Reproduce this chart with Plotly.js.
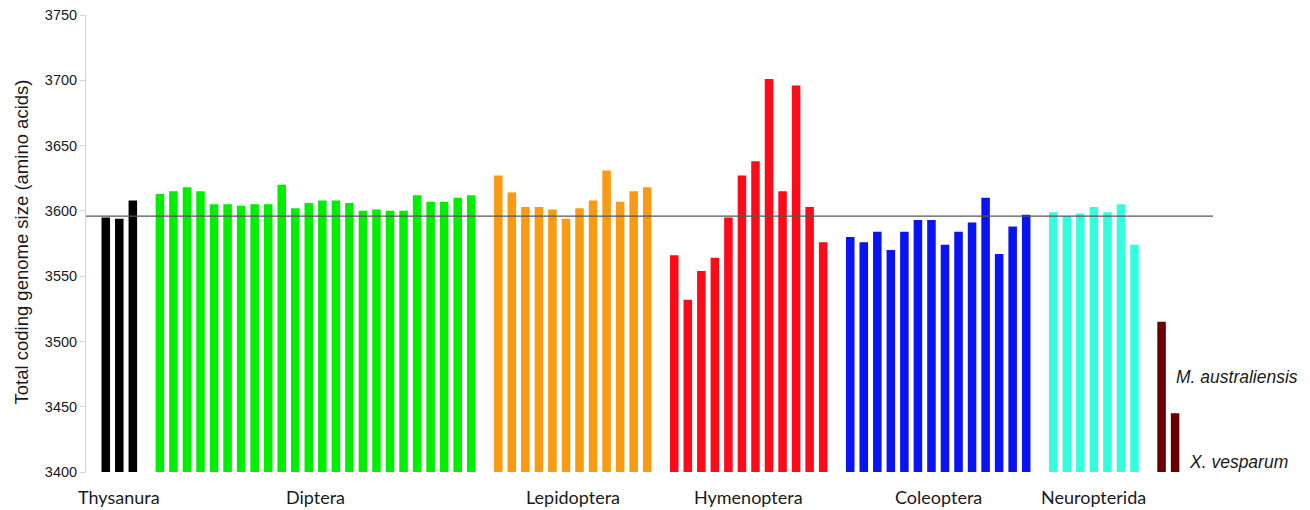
<!DOCTYPE html>
<html>
<head>
<meta charset="utf-8">
<script src="https://cdn.plot.ly/plotly-3.0.1.min.js"></script>
<style>html,body{margin:0;padding:0;background:#fff;}#chart{width:1310px;height:510px;}</style>
</head>
<body>
<div id="chart"></div>
<script>
// Group names (x-axis labels)
const groupNames = ["Thysanura", "Diptera", "Lepidoptera", "Hymenoptera", "Coleoptera", "Neuropterida", "Strepsiptera"];
// Values per group (total coding genome size, amino acids)
const thysanura = [3595, 3594, 3608];
const diptera = [3613, 3615, 3618, 3615, 3605, 3605, 3604, 3605, 3605, 3620, 3602, 3606,
                 3608, 3608, 3606, 3600, 3601, 3600, 3600, 3612, 3607, 3607, 3610, 3612];
const lepidoptera = [3627, 3614, 3603, 3603, 3601, 3594, 3602, 3608, 3631, 3607, 3615, 3618];
const hymenoptera = [3566, 3532, 3554, 3564, 3595, 3627, 3638, 3701, 3615, 3696, 3603, 3576];
const coleoptera = [3580, 3576, 3584, 3570, 3584, 3593, 3593, 3574, 3584, 3591, 3610, 3567, 3588, 3597];
const neuropterida = [3599, 3596, 3598, 3603, 3599, 3605, 3574];
const strepsiptera = [3515, 3445];
const strepsipteraNames = ["M. australiensis", "X. vesparum"];
const meanValue = 3596;
const yTitle = "Total coding genome size (amino acids)";
const groupColors = ["#000000", "#00ee00", "#f89a12", "#ff0a18", "#0a14f2", "#33ffdf", "#6a0000"];
const showGroupLabel = [true, true, true, true, true, true, false];

const groups = [thysanura, diptera, lepidoptera, hymenoptera, coleoptera, neuropterida, strepsiptera];

const traces = [];
const annotations = [];
let pos = 0;
groups.forEach((vals, gi) => {
  const xs = vals.map((_, i) => pos + i);
  traces.push({
    type: "bar",
    x: xs,
    y: vals,
    width: 0.63,
    marker: {color: groupColors[gi], line: {width: 0}},
    name: groupNames[gi],
    hoverinfo: "y+name"
  });
  if (showGroupLabel[gi]) {
    annotations.push({
      xref: "x", yref: "paper",
      x: (xs[0] + xs[xs.length - 1]) / 2, y: -0.055,
      xanchor: "center", yanchor: "middle",
      text: groupNames[gi], showarrow: false,
      font: {family: "Lato, 'Open Sans', sans-serif", size: 18, color: "#1a1a1a"}
    });
  } else {
    // species labels for the two Strepsiptera bars
    annotations.push({
      xref: "x", yref: "y", x: xs[0] + 0.9, y: 3473,
      xanchor: "left", yanchor: "middle",
      text: "<i>" + strepsipteraNames[0] + "</i>", showarrow: false,
      font: {family: "'Liberation Sans', Arial, sans-serif", size: 17.5, color: "#1a1a1a"}
    });
    annotations.push({
      xref: "x", yref: "y", x: xs[1] + 0.9, y: 3408,
      xanchor: "left", yanchor: "middle",
      text: "<i>" + strepsipteraNames[1] + "</i>", showarrow: false,
      font: {family: "'Liberation Sans', Arial, sans-serif", size: 17.5, color: "#1a1a1a"}
    });
  }
  pos += vals.length + 1;
});

// y-axis title placed as rotated annotation for exact positioning
annotations.push({
  xref: "paper", yref: "paper", x: 0, y: 0.5, xshift: -65, yshift: 1,
  xanchor: "center", yanchor: "middle", textangle: -90,
  text: yTitle, showarrow: false,
  font: {family: "'Liberation Sans', Arial, sans-serif", size: 18.5, color: "#1a1a1a"}
});

const layout = {
  width: 1310, height: 510,
  margin: {l: 86, r: 97, t: 15, b: 38, pad: 0},
  paper_bgcolor: "#ffffff", plot_bgcolor: "#ffffff",
  showlegend: false,
  barmode: "overlay",
  xaxis: {
    range: [-1.46, 81.8],
    showgrid: false, zeroline: false, showline: false,
    showticklabels: false, ticks: ""
  },
  yaxis: {
    range: [3400, 3750],
    dtick: 50, tick0: 3400,
    showgrid: false, zeroline: false,
    showline: true, linecolor: "#d4d4d4", linewidth: 1,
    ticks: "outside", ticklen: 5, tickcolor: "#d4d4d4",
    tickfont: {family: "'Liberation Sans', Arial, sans-serif", size: 14.5, color: "#1a1a1a"}
  },
  shapes: [{
    type: "line", xref: "paper", yref: "y",
    x0: 0, x1: 1, y0: meanValue, y1: meanValue,
    line: {color: "#555555", width: 1.3}
  }],
  annotations: annotations
};

Plotly.newPlot("chart", traces, layout, {staticPlot: true, displayModeBar: false});
</script>
</body>
</html>
